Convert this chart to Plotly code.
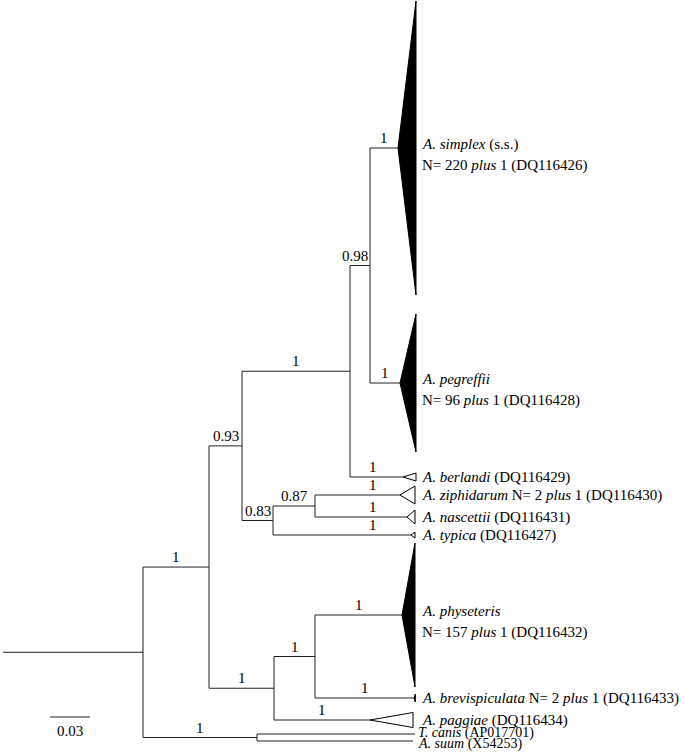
import plotly.graph_objects as go

# ---------------- data: tree topology, branch lengths (subst./site), support ----------------
node_names = ["root", "A", "B", "C", "D", "simplex", "pegreffii", "berlandi", "E", "F",
              "ziphidarum", "nascettii", "typica", "G", "H", "physeteris", "brevispiculata",
              "paggiae", "Out", "canis", "suum"]
node_parents = [None, "root", "A", "B", "C", "D", "D", "C", "B", "E",
                "F", "F", "E", "A", "G", "H", "H",
                "G", "root", "Out", "Out"]
branch_lengths = [0.105, 0.0495, 0.02475, 0.081, 0.015, 0.021, 0.0225, 0.03975, 0.02325, 0.0315,
                  0.06375, 0.069, 0.1035, 0.04875, 0.03075, 0.06525, 0.07425,
                  0.072, 0.0855, 0.1185, 0.117]
support_values = [None, "1", "0.93", "1", "0.98", "1", "1", "1", "0.83", "0.87",
                  "1", "1", "1", "1", "1", "1", "1",
                  "1", "1", None, None]

# collapsed clades (leaf -> depth of the triangle in subst./site, filled?)
leaf_names = ["simplex", "pegreffii", "berlandi", "ziphidarum", "nascettii", "typica",
              "physeteris", "brevispiculata", "paggiae", "canis", "suum"]
clade_depth = [0.0135, 0.012, 0.00975, 0.01125, 0.006, 0.003,
               0.00975, 0.001, 0.03225, 0.0, 0.0]
clade_filled = [True, True, False, False, False, False, True, True, False, False, False]
leaf_labels = [
    ["<i>A. simplex</i> (s.s.)", "N= 220 <i>plus</i> 1 (DQ116426)"],
    ["<i>A. pegreffii</i>", "N= 96 <i>plus</i> 1 (DQ116428)"],
    ["<i>A. berlandi</i> (DQ116429)"],
    ["<i>A. ziphidarum</i> N= 2 <i>plus</i> 1 (DQ116430)"],
    ["<i>A. nascettii</i> (DQ116431)"],
    ["<i>A. typica</i> (DQ116427)"],
    ["<i>A. physeteris</i>", "N= 157 <i>plus</i> 1 (DQ116432)"],
    ["<i>A. brevispiculata</i> N= 2 <i>plus</i> 1 (DQ116433)"],
    ["<i>A. paggiae</i> (DQ116434)"],
    ["<i>T. canis</i> (AP017701)"],
    ["<i>A. suum</i> (X54253)"],
]
scale_value = 0.03
scale_label = "0.03"

# ---------------- layout (drawing positions, not data) ----------------
W, H = 685, 752
PX = 0.00075                      # subst./site per pixel
X0 = 3                            # root stem start (px)
leaf_row = [148, 383, 477, 495, 517, 535, 615, 698, 720, 734, 741]
clade_half = [147, 69, 4, 9, 7, 3, 72, 4, 7.5, 0, 0]
leaf_label_size = [15, 15, 15, 15, 15, 15, 15, 15, 15, 14, 14]
leaf_label_dy = {"suum": 3, "canis": -1}
support_x_override = {"berlandi": 0.2775, "ziphidarum": 0.2775, "nascettii": 0.2775, "typica": 0.2775,
                      "D": 0.264}
label_x_px = 421
FONT = "Liberation Serif, Times New Roman, serif"
LINE = "#222"

# ---------------- compute tree coordinates ----------------
idx = {n: i for i, n in enumerate(node_names)}
children = {n: [] for n in node_names}
for n, p in zip(node_names, node_parents):
    if p is not None:
        children[p].append(n)

xpos = {}
def set_x(n):
    p = node_parents[idx[n]]
    xpos[n] = (xpos[p] if p else 0.0) + branch_lengths[idx[n]]
    for c in children[n]:
        set_x(c)
set_x("root")

ypos = {n: leaf_row[i] for i, n in enumerate(leaf_names)}
def set_y(n):
    if n in ypos:
        return ypos[n]
    ys = [set_y(c) for c in children[n]]
    ypos[n] = (min(ys) + max(ys)) / 2
    return ypos[n]
set_y("root")

lx, ly = [], []
# root stem
lx += [0, xpos["root"], None]; ly += [ypos["root"], ypos["root"], None]
for n in node_names:
    p = node_parents[idx[n]]
    if p is not None:
        lx += [xpos[p], xpos[n], None]; ly += [ypos[n], ypos[n], None]
    if children[n]:
        cy = [ypos[c] for c in children[n]]
        lx += [xpos[n], xpos[n], None]; ly += [min(cy), max(cy), None]

fig = go.Figure()
fig.add_trace(go.Scatter(x=lx, y=ly, mode="lines", line=dict(color=LINE, width=1),
                         hoverinfo="skip", showlegend=False))

# collapsed clade triangles
for i, n in enumerate(leaf_names):
    d = clade_depth[i]
    if d <= 0:
        continue
    xt, yt, h = xpos[n], ypos[n], clade_half[i]
    fig.add_trace(go.Scatter(
        x=[xt, xt + d, xt + d, xt], y=[yt, yt - h, yt + h, yt],
        mode="lines", fill="toself",
        fillcolor="black" if clade_filled[i] else "white",
        line=dict(color="black", width=1), hoverinfo="skip", showlegend=False))

# scale bar
sx0 = (50 - X0) * PX
fig.add_trace(go.Scatter(x=[sx0, sx0 + scale_value], y=[717, 717], mode="lines",
                         line=dict(color=LINE, width=1), hoverinfo="skip", showlegend=False))

ann = []
ann.append(dict(x=sx0 + scale_value / 2, y=731, text=scale_label, showarrow=False,
                xanchor="center", yanchor="middle", font=dict(family=FONT, size=15, color="black")))

# support values
for n in node_names:
    s = support_values[idx[n]]
    if s is None:
        continue
    p = node_parents[idx[n]]
    xm = support_x_override.get(n, (xpos[p] + xpos[n]) / 2)
    ann.append(dict(x=xm, y=ypos[n] - 10, text=s, showarrow=False,
                    xanchor="center", yanchor="middle",
                    font=dict(family=FONT, size=15, color="black")))

# leaf labels
lab_x = (label_x_px - X0) * PX
for i, n in enumerate(leaf_names):
    lines = leaf_labels[i]
    yt = ypos[n] + leaf_label_dy.get(n, 0)
    if len(lines) == 1:
        offs = [0]
    else:
        offs = [-4, 17]
    xl = lab_x if n not in ("canis", "suum") else lab_x - 4 * PX
    for t, o in zip(lines, offs):
        ann.append(dict(x=xl, y=yt + o, text=t, showarrow=False,
                        xanchor="left", yanchor="middle", borderpad=0,
                        font=dict(family=FONT, size=leaf_label_size[i], color="black")))

fig.update_layout(
    width=W, height=H, margin=dict(l=0, r=0, t=0, b=0),
    paper_bgcolor="white", plot_bgcolor="white", showlegend=False,
    annotations=ann,
    xaxis=dict(range=[-X0 * PX, (W - X0) * PX], visible=False, fixedrange=True),
    yaxis=dict(range=[H, 0], visible=False, fixedrange=True),
)
fig.write_html("out.html", config={"displayModeBar": False},
               post_script="document.body.style.margin='0';document.body.style.overflow='hidden';")
